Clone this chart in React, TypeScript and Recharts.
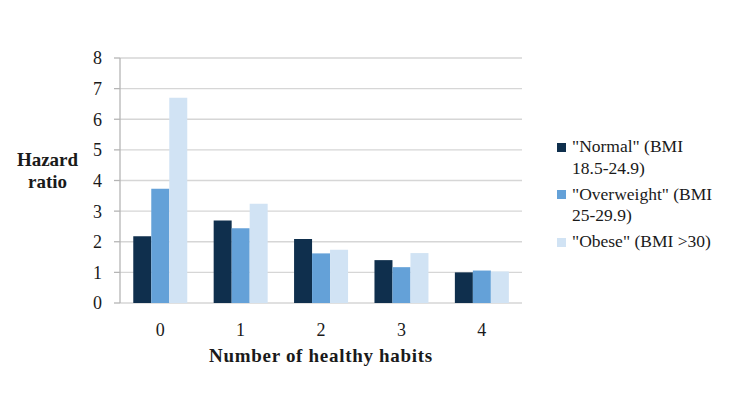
import {
  BarChart,
  Bar,
  XAxis,
  YAxis,
  CartesianGrid,
  Legend,
  Label,
} from "recharts";

const categories = ["0", "1", "2", "3", "4"];
const normal = [2.18, 2.69, 2.09, 1.4, 1.0];
const overweight = [3.73, 2.44, 1.62, 1.17, 1.06];
const obese = [6.7, 3.24, 1.74, 1.63, 1.03];
const yTicks = [0, 1, 2, 3, 4, 5, 6, 7, 8];
const bandTicks = [0, 1, 2, 3, 4, 5];
const yLabelLines = ["Hazard", "ratio"];
const xLabel = "Number of healthy habits";
const legendLines = [
  ['"Normal" (BMI', "18.5-24.9)"],
  ['"Overweight" (BMI', "25-29.9)"],
  ['"Obese" (BMI >30)'],
];

const COLORS = ["#0f2f4d", "#64a1d8", "#d1e3f4"];
const FONT = '"Liberation Serif", "Times New Roman", serif';
const TEXT = "#1a1a1a";
const AXIS = "#b5b5b5";
const GRID = "#d6d6d6";

const data = categories.map((cat, i) => ({
  cat,
  normal: normal[i],
  overweight: overweight[i],
  obese: obese[i],
}));

// legend entries wrap onto two lines like the original
const renderLegend = () => (
  <div style={{ fontFamily: FONT, fontSize: 17.5, color: TEXT }}>
    {legendLines.map((lines, i) => (
      <div key={i} style={{ display: "flex", marginBottom: 4.5 }}>
        <div
          style={{
            width: 9,
            height: 9,
            marginTop: 6.5,
            marginRight: 6,
            background: COLORS[i],
            flexShrink: 0,
          }}
        />
        <div style={{ lineHeight: "21.5px", whiteSpace: "nowrap" }}>
          {lines.map((l, j) => (
            <div key={j}>{l}</div>
          ))}
        </div>
      </div>
    ))}
  </div>
);

export default function App() {
  return (
    <div
      style={{
        position: "absolute",
        left: 0,
        top: 0,
        width: 750,
        height: 395,
        background: "#fff",
      }}
    >
      <BarChart
        width={750}
        height={395}
        data={data}
        margin={{ top: 58, right: 228, left: 0, bottom: 0 }}
        barCategoryGap="16.5%"
        barGap={0}
      >
        <CartesianGrid
          xAxisId="c"
          vertical={false}
          stroke={GRID}
          strokeWidth={1.3}
        />
        {/* numeric axis only to draw tick marks between categories */}
        <XAxis
          xAxisId="b"
          type="number"
          domain={[0, 5]}
          ticks={bandTicks}
          tick={false}
          height={0}
          tickSize={6}
          stroke={AXIS}
          strokeWidth={1.3}
          allowDataOverflow
        />
        <XAxis
          xAxisId="c"
          dataKey="cat"
          height={92}
          axisLine={false}
          tickLine={false}
          tickSize={0}
          tickMargin={20}
          tick={{ fontFamily: FONT, fontSize: 18, fill: TEXT }}
        >
          <Label
            value={xLabel}
            position="insideBottom"
            offset={33}
            style={{
              fontFamily: FONT,
              fontSize: 19,
              fontWeight: "bold",
              fill: TEXT,
              letterSpacing: 0.7,
            }}
          />
        </XAxis>
        <YAxis
          width={120}
          domain={[0, 8]}
          ticks={yTicks}
          interval={0}
          tickSize={6}
          tickMargin={12}
          stroke={AXIS}
          strokeWidth={1.3}
          tick={{ fontFamily: FONT, fontSize: 18, fill: TEXT }}
        >
          <Label
            content={() => (
              <text
                textAnchor="middle"
                style={{ fontFamily: FONT }}
                fontSize={19}
                fontWeight="bold"
                fill={TEXT}
              >
                {yLabelLines.map((l, i) => (
                  <tspan key={i} x={47.5} y={166 + i * 22}>
                    {l}
                  </tspan>
                ))}
              </text>
            )}
          />
        </YAxis>
        <Legend
          layout="vertical"
          align="center"
          verticalAlign="middle"
          content={renderLegend}
          wrapperStyle={{ position: "absolute", left: 557, top: 136, width: 190 }}
        />
        <Bar
          xAxisId="c"
          dataKey="normal"
          name={legendLines[0].join(" ")}
          fill={COLORS[0]}
          isAnimationActive={false}
        />
        <Bar
          xAxisId="c"
          dataKey="overweight"
          name={legendLines[1].join(" ")}
          fill={COLORS[1]}
          isAnimationActive={false}
        />
        <Bar
          xAxisId="c"
          dataKey="obese"
          name={legendLines[2].join(" ")}
          fill={COLORS[2]}
          isAnimationActive={false}
        />
      </BarChart>
    </div>
  );
}
